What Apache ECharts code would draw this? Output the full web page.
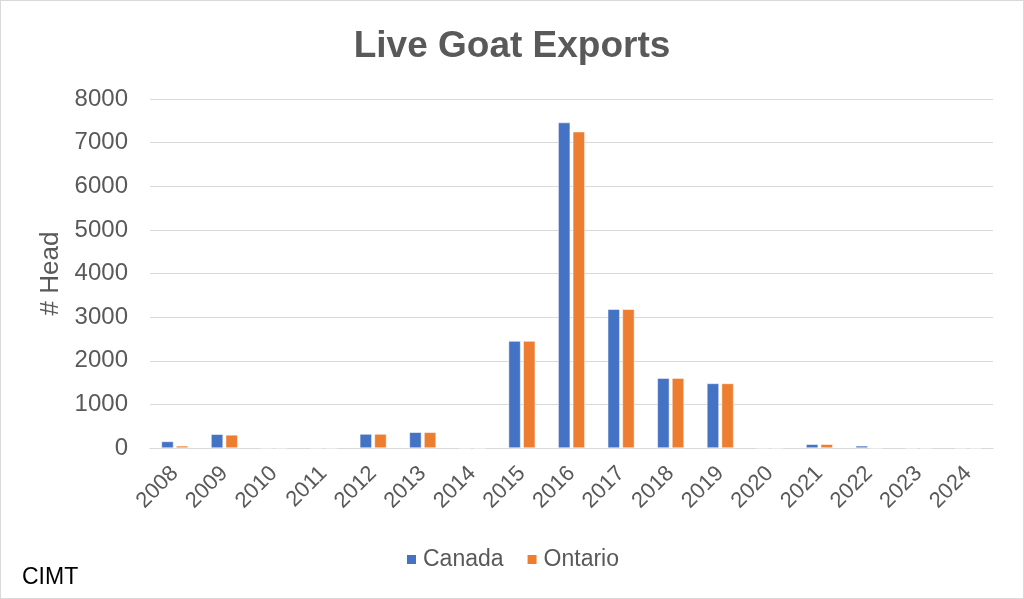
<!DOCTYPE html>
<html>
<head>
<meta charset="utf-8">
<script src="https://cdn.jsdelivr.net/npm/echarts@6/dist/echarts.min.js"></script>
<style>
html,body{margin:0;padding:0;background:#fff;}
#wrap{position:relative;width:1024px;height:599px;box-sizing:border-box;border:1px solid #d9d9d9;}
#chart{width:1022px;height:597px;}
</style>
</head>
<body>
<div id="wrap"><div id="chart"></div></div>
<script>
const years = ['2008','2009','2010','2011','2012','2013','2014','2015','2016','2017','2018','2019','2020','2021','2022','2023','2024'];
const canada = [150, 315, 0, 0, 320, 360, 0, 2450, 7460, 3180, 1600, 1480, 0, 85, 50, 0, 0];
const ontario = [50, 300, 0, 0, 320, 360, 0, 2450, 7250, 3180, 1600, 1480, 0, 85, 0, 0, 0];
const yTicks = {min: 0, max: 8000, interval: 1000};

const chart = echarts.init(document.getElementById('chart'));
const font = 'Liberation Sans, Arial, sans-serif';
chart.setOption({
  animation: false,
  title: {
    text: 'Live Goat Exports',
    left: 'center', top: 22,
    textStyle: {fontFamily: font, fontSize: 37, fontWeight: 'bold', color: '#595959'}
  },
  legend: {
    top: 542, left: 'center',
    itemWidth: 11, itemHeight: 11, itemGap: 22,
    icon: 'rect',
    textStyle: {fontFamily: font, fontSize: 23, color: '#595959', padding: [0, 0, 0, 1]},
    data: ['Canada', 'Ontario']
  },
  grid: {left: 149, right: 30, top: 98, bottom: 150, containLabel: false},
  xAxis: {
    type: 'category',
    data: years,
    axisTick: {show: false},
    axisLine: {lineStyle: {color: '#d9d9d9', width: 1}},
    axisLabel: {rotate: 45, fontFamily: font, fontSize: 22, color: '#595959', margin: 22, interval: 0}
  },
  yAxis: {
    type: 'value',
    min: yTicks.min, max: yTicks.max, interval: yTicks.interval,
    name: '# Head', nameLocation: 'middle', nameGap: 86, nameRotate: 90,
    nameTextStyle: {fontFamily: font, fontSize: 26, color: '#595959'},
    axisLine: {show: false}, axisTick: {show: false},
    splitLine: {lineStyle: {color: '#d9d9d9', width: 1}},
    axisLabel: {fontFamily: font, fontSize: 24, color: '#595959', margin: 22,
      formatter: function (v) { return String(v); }}
  },
  series: [
    {name: 'Canada', type: 'bar', data: canada, barWidth: 12, barGap: '22%',
     itemStyle: {color: '#4472c4', borderColor: '#ffffff', borderWidth: 0.5}},
    {name: 'Ontario', type: 'bar', data: ontario, barWidth: 12,
     itemStyle: {color: '#ed7d31', borderColor: '#ffffff', borderWidth: 0.5}}
  ],
  graphic: [{
    type: 'text', left: 21, top: 565,
    style: {text: 'CIMT', fontFamily: font, fontSize: 23, fill: '#000000'}
  }]
});
</script>
</body>
</html>
